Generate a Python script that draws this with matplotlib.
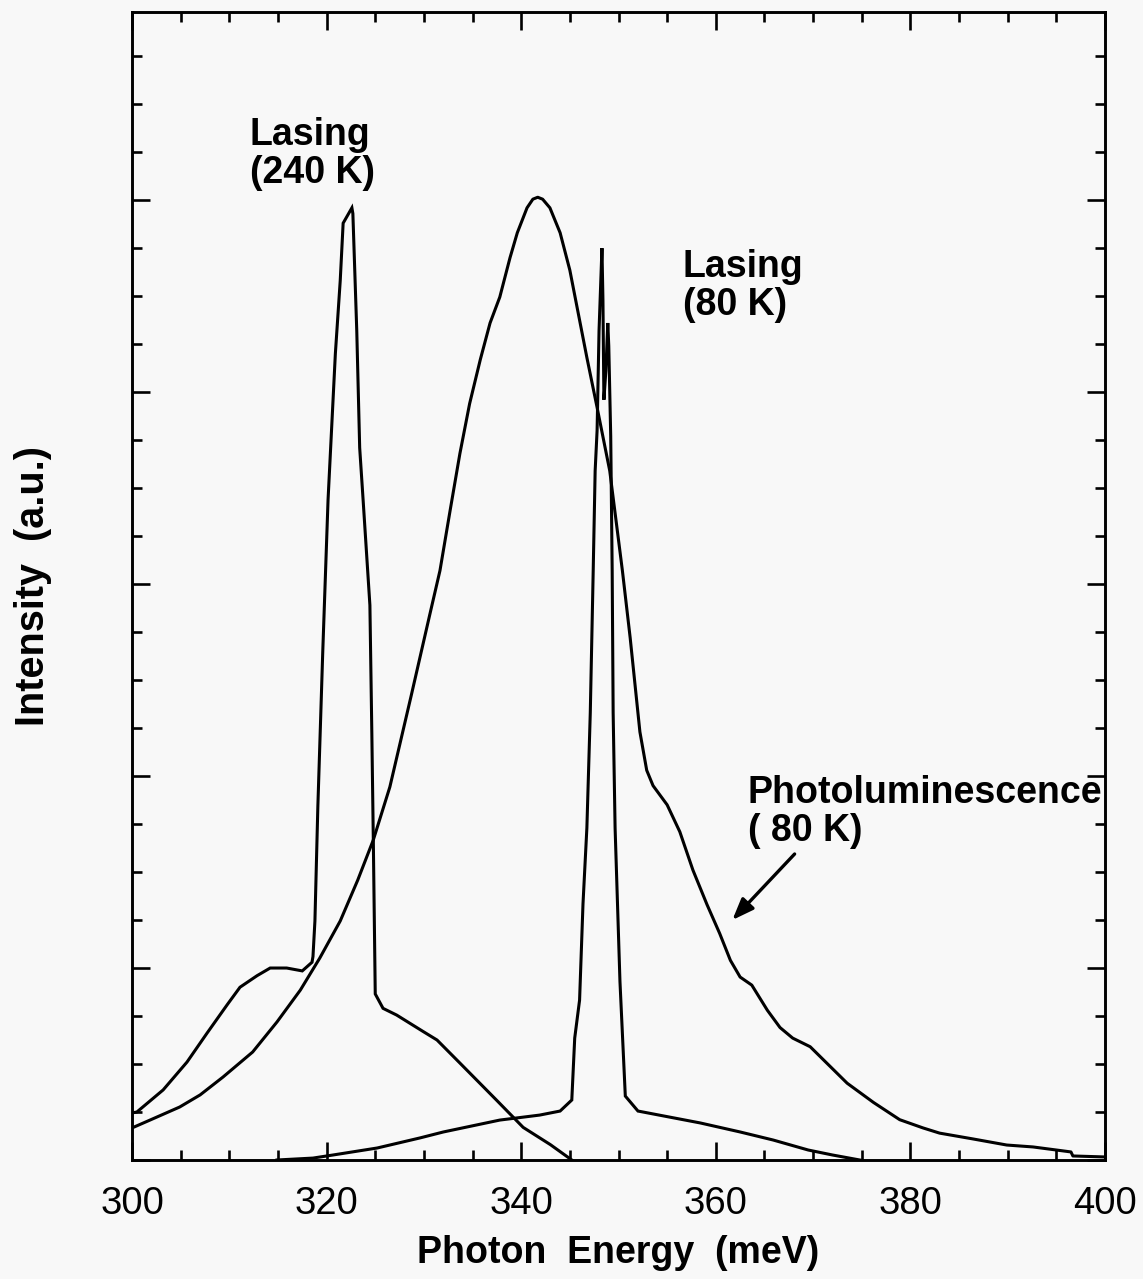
import matplotlib
matplotlib.use("Agg")
import matplotlib.pyplot as plt
from matplotlib.ticker import MultipleLocator, NullFormatter

plt.rcParams['font.family'] = ['Liberation Sans', 'DejaVu Sans']

# ---- data (photon energy in meV, intensity in a.u.) ----
lasing240_x = [300.0, 300.5, 303.2, 305.65, 307.7, 309.8, 311.1, 312.85, 314.2, 315.9,
               317.5, 318.5, 318.6, 318.8, 319.1, 319.6, 320.15, 320.9, 321.4, 321.7,
               322.6, 322.7, 323.1, 323.4, 323.75, 324.45, 324.65, 324.8, 325.0, 325.8,
               327.2, 329.9, 331.35, 333.7, 337.5, 340.2, 343.0, 345.2]
lasing240_y = [0.245, 0.25, 0.365, 0.51, 0.66, 0.81, 0.90, 0.96, 1.00, 1.00,
               0.985, 1.03, 1.06, 1.245, 1.84, 2.64, 3.44, 4.20, 4.58, 4.88,
               4.96, 4.93, 4.32, 3.71, 3.44, 2.89, 2.22, 1.67, 0.865, 0.79,
               0.755, 0.67, 0.625, 0.505, 0.31, 0.17, 0.08, 0.0]

pl80_x = [300.0, 301.85, 304.9, 307.0, 309.35, 312.4, 314.9, 317.3, 319.3, 321.4,
          323.2, 324.8, 326.5, 328.7, 330.6, 331.65, 332.7, 333.7, 334.7, 335.8,
          336.8, 337.8, 338.85, 339.6, 340.6, 341.2, 341.7, 342.2, 342.95, 344.0,
          345.0, 346.0, 346.75, 347.8, 349.1, 350.4, 351.2, 352.2, 352.9, 353.55,
          355.0, 356.3, 357.65, 359.1, 360.4, 361.5, 362.5, 363.7, 364.2, 365.3,
          366.6, 367.9, 369.7, 371.4, 373.5, 376.2, 378.9, 381.3, 383.0, 386.4,
          389.9, 392.6, 396.5, 396.7, 399.9]
pl80_y = [0.167, 0.208, 0.276, 0.339, 0.432, 0.5625, 0.719, 0.885, 1.052, 1.245,
          1.458, 1.667, 1.943, 2.42, 2.84, 3.07, 3.385, 3.68, 3.94, 4.17,
          4.36, 4.495, 4.70, 4.83, 4.96, 5.005, 5.015, 5.005, 4.96, 4.83,
          4.635, 4.375, 4.18, 3.92, 3.59, 3.07, 2.72, 2.23, 2.03, 1.95,
          1.85, 1.71, 1.51, 1.33, 1.18, 1.04, 0.953, 0.911, 0.87, 0.78,
          0.69, 0.635, 0.59, 0.505, 0.40, 0.30, 0.21, 0.167, 0.14, 0.11,
          0.078, 0.068, 0.042, 0.021, 0.016]

lasing80_x = [314.9, 318.6, 320.65, 325.2, 329.6, 332.0, 337.8, 341.9, 344.0, 345.2,
              345.5, 346.0, 346.35, 346.75, 347.1, 347.4, 347.6, 347.8, 348.0, 348.3,
              348.4, 348.5, 348.7, 348.9, 349.0, 349.2, 349.35, 349.45, 349.65, 350.15,
              350.7, 352.0, 358.4, 362.5, 365.9, 369.5, 372.0, 374.8]
lasing80_y = [0.0, 0.01, 0.026, 0.0625, 0.115, 0.146, 0.208, 0.234, 0.255, 0.3125,
              0.635, 0.833, 1.333, 1.73, 2.33, 3.07, 3.59, 3.80, 4.32, 4.75,
              4.48, 3.96, 4.11, 4.36, 4.24, 3.77, 3.07, 2.33, 1.73, 0.93,
              0.333, 0.255, 0.193, 0.146, 0.104, 0.052, 0.026, 0.0]

x_ticks = [300, 320, 340, 360, 380, 400]
x_ticklabels = ['300', '320', '340', '360', '380', '400']

# ---- figure ----
W, H = 1143, 1279
fig = plt.figure(figsize=(W / 100, H / 100), dpi=100)
bg = '#f8f8f8'
fig.patch.set_facecolor(bg)
ax = fig.add_axes([132 / W, 119 / H, 973 / W, 1148 / H])
ax.set_facecolor(bg)

lw = 2.2
ax.plot(lasing240_x, lasing240_y, color='black', lw=lw, solid_joinstyle='miter')
ax.plot(pl80_x, pl80_y, color='black', lw=lw, solid_joinstyle='round')
ax.plot(lasing80_x, lasing80_y, color='black', lw=lw, solid_joinstyle='miter')

ax.set_xlim(300, 400)
ax.set_ylim(0, 5.98)

ax.set_xticks(x_ticks)
ax.set_xticklabels(x_ticklabels)
ax.xaxis.set_minor_locator(MultipleLocator(5))
ax.yaxis.set_major_locator(MultipleLocator(1))
ax.yaxis.set_minor_locator(MultipleLocator(0.25))
ax.yaxis.set_major_formatter(NullFormatter())

ax.tick_params(which='both', direction='in', top=True, right=True, width=1.9, color='black')
ax.tick_params(which='major', length=13)
ax.tick_params(which='minor', length=7)
ax.tick_params(axis='x', which='major', labelsize=27.5, pad=19)

for s in ax.spines.values():
    s.set_linewidth(2.1)

ax.set_xlabel('Photon  Energy  (meV)', fontsize=27, fontweight='bold', labelpad=9)
ax.set_ylabel('Intensity  (a.u.)', fontsize=28.5, fontweight='bold', labelpad=54)

tfs = 27
ls = 1.08
ax.text(312.1, 5.435, 'Lasing\n(240 K)', fontsize=tfs, fontweight='bold',
        ha='left', va='top', linespacing=ls)
ax.text(356.6, 4.745, 'Lasing\n(80 K)', fontsize=tfs, fontweight='bold',
        ha='left', va='top', linespacing=ls)
ax.text(363.3, 2.005, 'Photoluminescence\n( 80 K)', fontsize=tfs, fontweight='bold',
        ha='left', va='top', linespacing=ls)

ax.annotate('', xy=(361.7, 1.25), xytext=(368.1, 1.594),
            arrowprops=dict(arrowstyle='-|>,head_length=1.3,head_width=0.5',
                            color='black', lw=2.4, shrinkA=0, shrinkB=0))

fig.savefig('out.png', dpi=100, facecolor=bg)
